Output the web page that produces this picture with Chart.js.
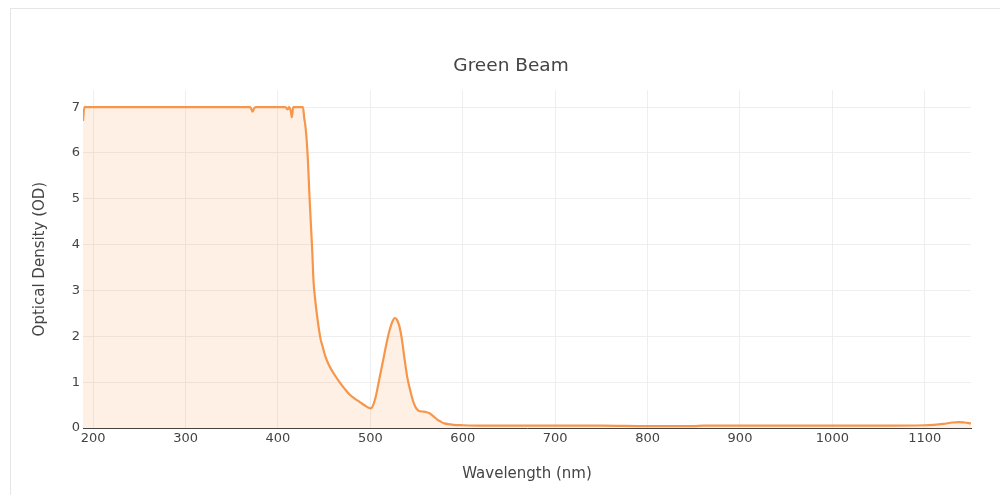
<!DOCTYPE html>
<html>
<head>
<meta charset="utf-8">
<script src="https://cdn.jsdelivr.net/npm/chart.js@4.4.1/dist/chart.umd.min.js"></script>
<style>
    html, body { margin: 0; padding: 0; background: #fff; overflow: hidden; width: 1000px; height: 495px; }
    #frame { position: absolute; left: 10px; top: 8px; width: 1100px; height: 600px; border: 1px solid #e6e6e6; }
    #chart { position: absolute; left: 0; top: 0; }
</style>
</head>
<body>
<div id="frame"></div>
<canvas id="chart" width="1022" height="495"></canvas>
<script>
// Spectrum readings (wavelength in nm, optical density)
const wavelengths = [189, 190.5, 192, 250, 300, 350, 370, 372.5, 374, 376, 400, 408, 410.5, 412, 414, 415, 416.5, 418, 420, 427,
    428.5, 429.5, 431, 432.5, 434, 435.5, 437, 438.5, 440, 442, 444, 446, 448, 451, 455, 460, 467, 472, 477, 483,
    489, 494, 498, 500.5, 503, 506, 509, 512, 515, 518, 521, 524, 526.5, 528.5, 531, 534, 537, 540, 543, 546,
    549, 552, 556, 560, 564, 568, 572, 576, 580, 586, 590, 600, 620, 650, 700, 750, 800, 850, 860, 870,
    900, 950, 1000, 1050, 1100, 1110, 1120, 1130, 1137, 1143, 1150];
const opticalDensity = [6.7, 7.0, 7.0, 7.0, 7.0, 7.0, 7.0, 6.9, 6.97, 7.0, 7.0, 7.0, 6.95, 7.0, 6.9, 6.78, 7.0, 7.0, 7.0, 7.0,
    6.75, 6.62, 6.3, 5.8, 5.1, 4.5, 3.9, 3.2, 2.85, 2.5, 2.2, 1.95, 1.8, 1.58, 1.38, 1.2, 0.99, 0.86, 0.74, 0.64,
    0.56, 0.49, 0.44, 0.43, 0.5, 0.7, 1.0, 1.3, 1.6, 1.9, 2.15, 2.33, 2.4, 2.37, 2.25, 1.95, 1.5, 1.1, 0.83, 0.6,
    0.45, 0.38, 0.36, 0.35, 0.32, 0.26, 0.19, 0.14, 0.1, 0.08, 0.07, 0.06, 0.05, 0.05, 0.05, 0.05, 0.04, 0.04, 0.05, 0.05,
    0.05, 0.05, 0.05, 0.05, 0.06, 0.07, 0.09, 0.12, 0.13, 0.12, 0.1];
const xTicks = [200, 300, 400, 500, 600, 700, 800, 900, 1000, 1100];
const yTicks = [0, 1, 2, 3, 4, 5, 6, 7];

const FONT = "'DejaVu Sans', Verdana, sans-serif";
const TEXT = "#444";

document.addEventListener("DOMContentLoaded", function () {
    const ctx = document.getElementById("chart").getContext("2d");

    new Chart(ctx, {
        type: "line",
        data: {
            datasets: [{
                label: "Green Beam",
                data: wavelengths.map((w, i) => ({ x: w, y: opticalDensity[i] })),
                borderColor: "#f7964a",
                backgroundColor: "rgba(247, 150, 74, 0.14)",
                borderWidth: 2.2,
                fill: "origin",
                pointRadius: 0,
                cubicInterpolationMode: "monotone"
            }]
        },
        options: {
            responsive: false,
            animation: false,
            layout: { padding: 0 },
            plugins: {
                legend: { display: false },
                tooltip: { enabled: false },
                title: {
                    display: true,
                    text: "Green Beam",
                    color: TEXT,
                    font: { family: FONT, size: 18.5, weight: "normal" },
                    padding: { top: 55, bottom: 13 }
                }
            },
            scales: {
                x: {
                    type: "linear",
                    min: 189,
                    max: 1150,
                    afterFit: scale => { scale.height = 67; },
                    afterBuildTicks: scale => { scale.ticks = xTicks.map(v => ({ value: v })); },
                    ticks: { color: TEXT, font: { family: FONT, size: 13 }, padding: 3, maxRotation: 0, callback: v => String(v) },
                    grid: { color: "#eeeeee", drawTicks: false },
                    border: { display: true, color: TEXT, width: 1 },
                    title: {
                        display: true,
                        text: "Wavelength (nm)",
                        color: TEXT,
                        font: { family: FONT, size: 15 },
                        padding: { top: 0, bottom: 12 }
                    }
                },
                y: {
                    min: 0,
                    max: 7.37,
                    afterFit: scale => { scale.width = 83; },
                    afterBuildTicks: scale => { scale.ticks = yTicks.map(v => ({ value: v })); },
                    ticks: { color: TEXT, font: { family: FONT, size: 13 }, padding: 3, callback: v => String(v) },
                    grid: { color: "#eeeeee", drawTicks: false },
                    border: { display: false },
                    title: {
                        display: true,
                        text: "Optical Density (OD)",
                        color: TEXT,
                        font: { family: FONT, size: 15 },
                        padding: { top: 31, bottom: 0 }
                    }
                },
                // empty right-hand margin so the title centres like the original
                yRight: {
                    position: "right",
                    min: 0,
                    max: 1,
                    afterFit: scale => { scale.width = 51; },
                    ticks: { display: false },
                    grid: { display: false },
                    border: { display: false }
                }
            }
        }
    });
});
</script>
</body>
</html>
